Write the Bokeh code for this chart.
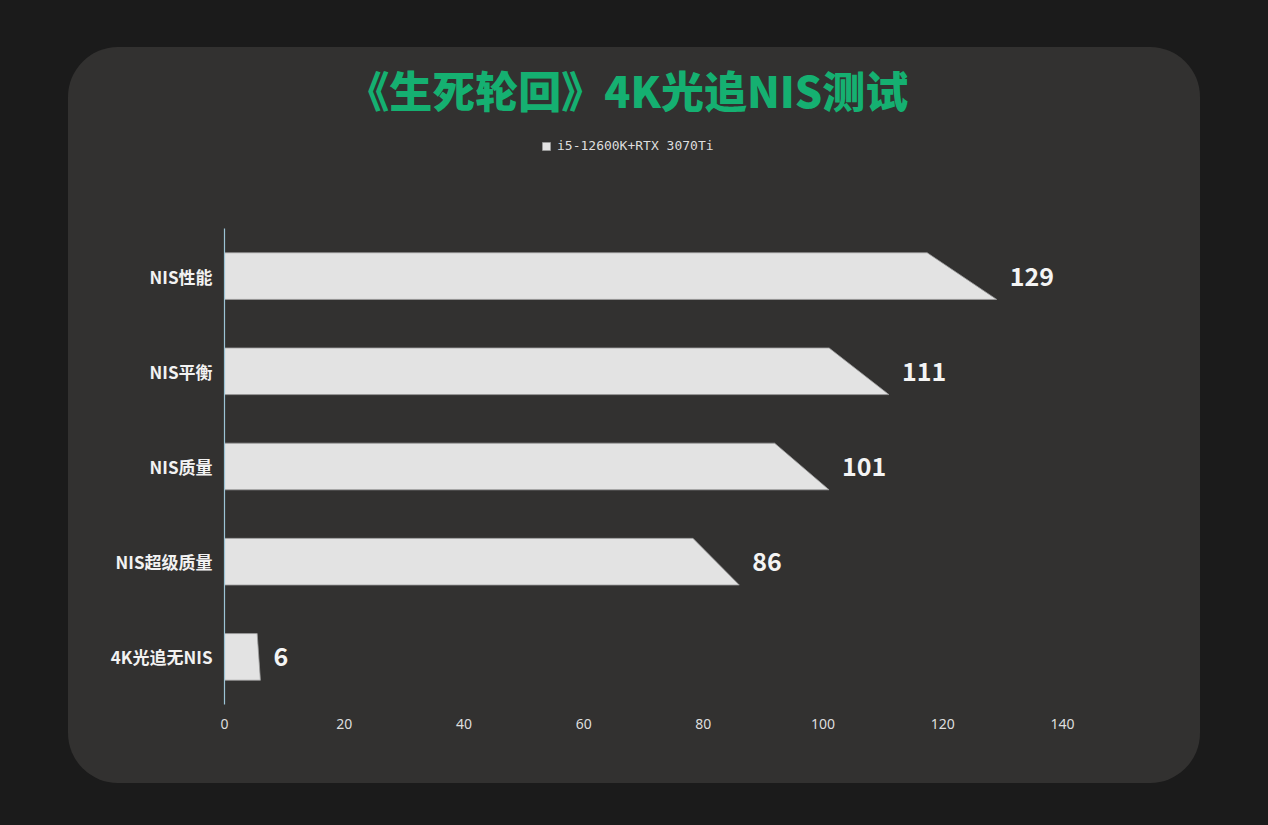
from bokeh.plotting import figure
from bokeh.models import Range1d, FixedTicker, Label, Legend, LegendItem, ColumnDataSource, LabelSet
from bokeh.core.properties import value
from bokeh.embed import file_html
from bokeh.resources import INLINE

# ---- data ----
categories = ["NIS性能", "NIS平衡", "NIS质量", "NIS超级质量", "4K光追无NIS"]
fps = [129, 111, 101, 86, 6]
series_name = "i5-12600K+RTX 3070Ti"
title_text = "《生死轮回》4K光追NIS测试"
x_ticks = [0, 20, 40, 60, 80, 100, 120, 140]

# ---- derived geometry (through data scales) ----
n = len(categories)
ypos = [n - 1 - i for i in range(n)]
half = 0.245
slant = 0.91
xs = [[0, v * slant, v, 0] for v in fps]
ys = [[y + half, y + half, y - half, y - half] for y in ypos]

PANEL = "#323130"
CJK = "Noto Sans CJK SC"

# frame spans the panel vertically from its top; extra headroom holds title and legend
p = figure(width=1132, height=736,
           x_range=Range1d(0, 140), y_range=Range1d(-0.5, n - 0.5 + 1.901),
           output_backend="svg", toolbar_location=None,
           min_border_left=156, min_border_right=138,
           min_border_top=0, min_border_bottom=79)
p.margin = (47, 0, 0, 68)
p.styles = {"border-radius": "50px", "overflow": "hidden",
            "background-color": PANEL}
p.background_fill_color = None
p.border_fill_color = None
p.outline_line_color = None
p.xgrid.grid_line_color = None
p.ygrid.grid_line_color = None

src = ColumnDataSource(dict(xs=xs, ys=ys, v=fps, y=ypos, lbl=[str(v) for v in fps]))
bars = p.patches("xs", "ys", source=src, fill_color="#e3e3e3",
                 line_color="#9a9a9a", line_width=0.8)

labels = LabelSet(x="v", y="y", text="lbl", source=src, x_offset=13,
                  text_baseline="middle", text_color="#f4f4f4",
                  text_font=value(CJK), text_font_style="bold",
                  text_font_size="25px")
p.add_layout(labels)

# x axis
p.xaxis.ticker = FixedTicker(ticks=x_ticks)
p.xaxis.axis_line_color = None
p.xaxis.major_tick_line_color = None
p.xaxis.major_tick_out = 0
p.xaxis.minor_tick_line_color = None
p.xaxis.major_label_text_color = "#dedede"
p.xaxis.major_label_text_font = "Noto Sans"
p.xaxis.major_label_text_font_size = "14px"
p.xaxis.major_label_standoff = 14

# y axis
p.yaxis.ticker = FixedTicker(ticks=ypos)
p.yaxis.bounds = (-0.5, n - 0.5)
p.yaxis.major_label_overrides = {y: c for y, c in zip(ypos, categories)}
p.yaxis.axis_line_color = "#9cc3d5"
p.yaxis.axis_line_width = 1.2
p.yaxis.major_tick_line_color = None
p.yaxis.major_tick_out = 0
p.yaxis.minor_tick_line_color = None
p.yaxis.major_label_text_color = "#f2f2f2"
p.yaxis.major_label_text_font = CJK
p.yaxis.major_label_text_font_style = "bold"
p.yaxis.major_label_text_font_size = "17px"
p.yaxis.major_label_standoff = 12

# title
title = Label(x=67.3, y=5.97, text=title_text, text_align="center",
              text_baseline="middle", text_color="#15b071",
              text_font="'Noto Sans CJK SC Black', 'Noto Sans CJK SC'",
              text_font_style="bold", text_font_size="43px")
p.add_layout(title)

legend = Legend(items=[LegendItem(label=series_name, renderers=[bars])],
                location=(317, 551), orientation="horizontal",
                glyph_width=10, glyph_height=10, label_standoff=6,
                padding=0, margin=0, spacing=0,
                background_fill_alpha=0, border_line_alpha=0,
                label_text_color="#dedede", label_text_font="DejaVu Sans Mono",
                label_text_font_size="13px")
p.add_layout(legend)

html = file_html(p, INLINE)
html = html.replace("</head>", "<style>html,body{background:#1b1b1b;}</style></head>", 1)
open("out.html", "w").write(html)
